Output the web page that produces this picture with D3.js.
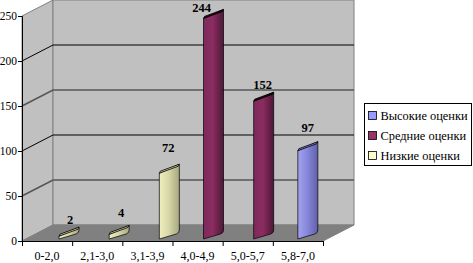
<!DOCTYPE html>
<html>
<head>
<meta charset="utf-8">
<script src="https://cdn.jsdelivr.net/npm/d3@7"></script>
<style>
  html, body { margin: 0; background: #fff; }
  svg { display: block; }
  text { font-family: "Liberation Serif", serif; fill: #000; }
</style>
</head>
<body>
<svg id="chart" width="473" height="263"></svg>
<script>
var categories = ['0-2,0', '2,1-3,0', '3,1-3,9', '4,0-4,9', '5,0-5,7', '5,8-7,0'];
var values = [2, 4, 72, 244, 152, 97];
var barSeries = ['Низкие оценки', 'Низкие оценки', 'Низкие оценки', 'Средние оценки', 'Средние оценки', 'Высокие оценки'];
var seriesNames = ['Высокие оценки', 'Средние оценки', 'Низкие оценки'];
var seriesColors = ['#9999ff', '#993366', '#ffffcc'];
var yTicks = [0, 50, 100, 150, 200, 250];

var width = 473, height = 263,
    depth = {x: 31, y: -16},
    barDepth = {x: 20, y: -9},
    plot = {left: 22, right: 323, top: 16, bottom: 241};

var xScale = d3.scaleBand().domain(categories).range([plot.left, plot.right]),
    xEdges = d3.scaleLinear().domain([0, categories.length]).range([plot.left, plot.right]),
    yScale = d3.scaleLinear().domain([0, 250]).range([plot.bottom, plot.top]),
    // each series sits at its own place inside the band
    seriesX = d3.scalePoint().domain(seriesNames).range([25, 37]),
    color = d3.scaleOrdinal().domain(seriesNames).range(seriesColors);

// hand placed value labels, the original does not keep them over the bars
var labelShift = {2: [11, -12], 4: [12, -17], 72: [9, -21], 244: [-2, -6], 152: [9, -12.5], 97: [10, -19]};

var svg = d3.select('#chart');
var defs = svg.append('defs');

var gradStops = [['#a3a3ee', '#8888dd', '#6060a8'],
                 ['#7c2a5c', '#8c2c60', '#4c1838'],
                 ['#eeeec0', '#d8d8a8', '#a8a880']];

seriesNames.forEach(function(name, i) {
  var g = defs.append('linearGradient').attr('id', 'grad' + i);
  g.append('stop').attr('offset', '0%').attr('stop-color', gradStops[i][0]);
  g.append('stop').attr('offset', '45%').attr('stop-color', gradStops[i][1]);
  g.append('stop').attr('offset', '100%').attr('stop-color', gradStops[i][2]);
});

function poly(pts) {
  return 'M' + pts.map(function(p) { return p.join(','); }).join('L') + 'Z';
}

var y0 = yScale(0), y250 = yScale(250);

// walls and floor
svg.append('path').attr('fill', '#c0c0c0').attr('stroke', '#808080')
  .attr('d', poly([[plot.left, y250], [plot.left + depth.x, y250 + depth.y],
                   [plot.left + depth.x, y0 + depth.y], [plot.left, y0]]));
svg.append('path').attr('fill', '#c0c0c0').attr('stroke', '#808080')
  .attr('d', poly([[plot.left + depth.x, y250 + depth.y], [plot.right + depth.x, y250 + depth.y],
                   [plot.right + depth.x, y0 + depth.y], [plot.left + depth.x, y0 + depth.y]]));
svg.append('path').attr('fill', '#808080').attr('stroke', '#808080')
  .attr('d', poly([[plot.left, y0], [plot.left + depth.x, y0 + depth.y],
                   [plot.right + depth.x, y0 + depth.y], [plot.right, y0]]));

// gridlines running along the side wall and the back wall
svg.append('g').selectAll('path')
  .data(yTicks.filter(function(d) { return d > 0 && d < 250; }))
  .enter().append('path')
    .attr('fill', 'none')
    .attr('stroke', function(d) { return d % 100 == 0 ? '#000' : '#555'; })
    .attr('stroke-width', function(d) { return d % 100 == 0 ? 1 : 1.6; })
    .attr('d', function(d) {
      var y = yScale(d);
      return 'M' + plot.left + ',' + y + 'L' + (plot.left + depth.x) + ',' + (y + depth.y) +
             'H' + (plot.right + depth.x);
    });

// bars
var bars = svg.append('g').selectAll('g')
  .data(values)
  .enter().append('g');

function barLeft(i) { return xScale(categories[i]) + seriesX(barSeries[i]); }
function barTop(d) { return yScale(d) - 3; }

bars.append('path')
  .attr('fill', function(d, i) { return 'url(#grad' + seriesNames.indexOf(barSeries[i]) + ')'; })
  .attr('stroke', '#000')
  .attr('stroke-width', 0.7)
  .attr('d', function(d, i) {
    var x = barLeft(i), t = barTop(d), b = y0 - 2;
    return 'M' + x + ',' + b + 'V' + t +
           'L' + (x + barDepth.x) + ',' + (t + barDepth.y) +
           'V' + (b + barDepth.y) +
           'Q' + (x + barDepth.x) + ',' + (b + barDepth.y + 3) + ' ' + (x + barDepth.x - 3) + ',' + (b + barDepth.y + 4) +
           'L' + x + ',' + b + 'Z';
  });

// top cap of each bar
bars.append('path')
  .attr('fill', function(d, i) { return barSeries[i] == seriesNames[1] ? '#1c0a14' : d3.color(color(barSeries[i])).darker(0.6); })
  .attr('stroke', '#000')
  .attr('stroke-width', 0.8)
  .attr('d', function(d, i) {
    var x = barLeft(i), t = barTop(d);
    return 'M' + x + ',' + t +
           'L' + (x + 1) + ',' + (t - 2) +
           'L' + (x + barDepth.x) + ',' + (t + barDepth.y) +
           'L' + (x + barDepth.x - 1) + ',' + (t + barDepth.y + 2) + 'Z';
  });

// value labels
bars.append('text')
  .attr('x', function(d, i) { return barLeft(i) + labelShift[d][0]; })
  .attr('y', function(d) { return barTop(d) + labelShift[d][1]; })
  .attr('text-anchor', 'middle')
  .attr('font-size', 12.5)
  .attr('font-weight', 'bold')
  .text(function(d) { return d; });

// axes
var yAxis = d3.axisLeft(yScale).tickValues(yTicks).tickSize(4).tickPadding(1);
svg.append('g')
  .attr('transform', 'translate(' + plot.left + ',0)')
  .call(yAxis)
  .call(function(g) {
    g.selectAll('text').attr('font-size', 11.5).attr('font-family', '"Liberation Serif", serif');
  });

var xTicks = d3.axisBottom(xEdges).ticks(categories.length).tickSize(5).tickFormat('');
svg.append('g')
  .attr('transform', 'translate(0,' + plot.bottom + ')')
  .call(xTicks);

var xAxis = d3.axisBottom(xScale).tickSize(0).tickPadding(10.5);
svg.append('g')
  .attr('transform', 'translate(0,' + plot.bottom + ')')
  .call(xAxis)
  .call(function(g) {
    g.select('.domain').remove();
    g.selectAll('text').attr('font-size', 12).attr('font-family', '"Liberation Serif", serif');
  });

// legend
var legend = svg.append('g').attr('transform', 'translate(364.5,103.5)');
legend.append('rect')
  .attr('width', 107).attr('height', 62)
  .attr('fill', '#fff').attr('stroke', '#000');
var items = legend.selectAll('g')
  .data(seriesNames)
  .enter().append('g')
    .attr('transform', function(d, i) { return 'translate(0,' + (12 + i * 20) + ')'; });
items.append('rect')
  .attr('x', 4).attr('y', -4).attr('width', 8).attr('height', 8)
  .attr('fill', function(d) { return color(d); })
  .attr('stroke', '#000').attr('stroke-width', 0.8);
items.append('text')
  .attr('x', 16).attr('y', 4)
  .attr('font-size', 12.4)
  .text(function(d) { return d; });
</script>
</body>
</html>
